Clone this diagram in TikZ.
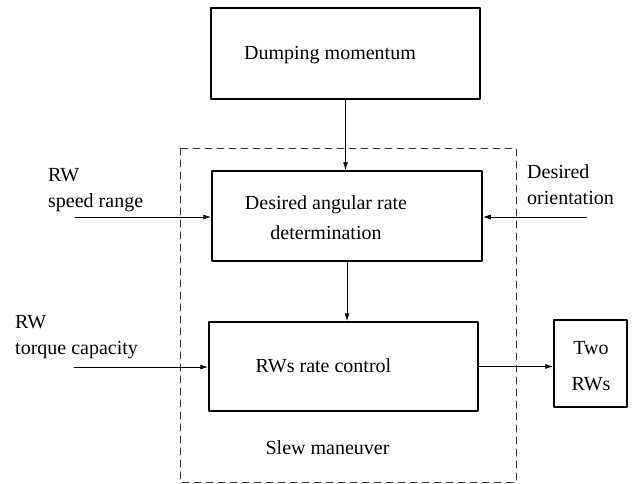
\documentclass[tikz,border=0pt]{standalone}
\usepackage{fontspec}
\setmainfont{Liberation Serif}
\usetikzlibrary{arrows.meta}
\begin{document}
\begin{tikzpicture}[line join=round,line cap=round,>={Latex[length=8pt,width=5pt]},x=1pt,y=-1pt,font=\fontsize{20}{26}\selectfont]
	\tikzset{blk/.style={draw,line width=1.5pt,inner sep=0pt}}
	\tikzset{lbl/.style={inner sep=0pt,align=left,anchor=west}}
	\tikzset{txt/.style={inner sep=0pt,align=center}}
	\tikzset{flow/.style={->,line width=0.9pt}}
	\useasboundingbox (0,0) rectangle (634,483);
	% slew maneuver frame
	\draw[line width=0.8pt,dash pattern=on 7pt off 5pt,black!80] (180,148) rectangle (516,482);
	\node[txt] (slewtxt) at (327.5,447.8) {Slew maneuver};
	% blocks
	\node[blk,minimum width=269pt,minimum height=91pt] (dump) at (345.5,53.5) {};
	\node[txt] (dumptxt) at (330,55) {Dumping momentum};
	\node[blk,minimum width=270pt,minimum height=90pt] (dar) at (347,216) {};
	\node[txt] (dartxt) at (326,217.8) {Desired angular rate\\[4pt]determination};
	\node[blk,minimum width=269pt,minimum height=89pt] (rrc) at (343.5,366.5) {};
	\node[txt] (rrctxt) at (323.5,366) {RWs rate control};
	\node[blk,minimum width=73pt,minimum height=87pt] (two) at (590.5,363.5) {};
	\node[txt] (twotxt) at (591,366.4) {Two\\[10pt]RWs};
	% inputs
	\node[lbl] (spdtxt) at (48,190.2) {RW\\speed range};
	\node[lbl] (trqtxt) at (15,337.2) {RW\\torque capacity};
	\node[lbl] (oritxt) at (527,184.2) {Desired\\orientation};
	\coordinate (spd) at (75,217);
	\coordinate (trq) at (74,367);
	\coordinate (ori) at (587,217);
	% connectors
	\draw[flow] (dump.south) -- (dump.south |- dar.north);
	\draw[flow] (dar.south) -- (dar.south |- rrc.north);
	\draw[flow] (spd) -- (spd -| dar.west);
	\draw[flow] (ori) -- (ori -| dar.east);
	\draw[flow] (trq) -- (trq -| rrc.west);
	\draw[flow] (rrc.east) -- (rrc.east -| two.west);
\end{tikzpicture}
\end{document}
